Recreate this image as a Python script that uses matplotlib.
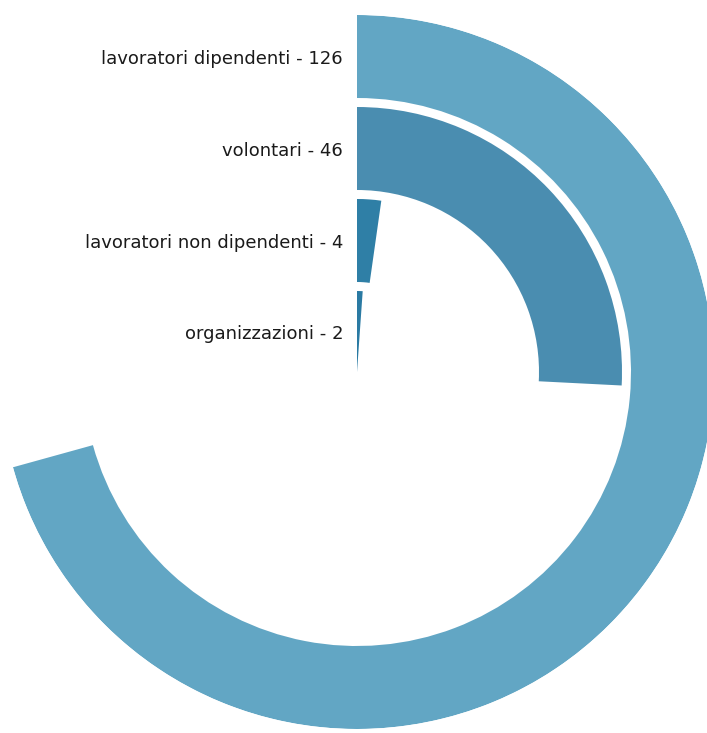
import numpy as np
import matplotlib.pyplot as plt

plt.rcParams["font.family"] = ["DejaVu Sans"]

categorie = ["lavoratori dipendenti", "volontari", "lavoratori non dipendenti", "organizzazioni"]
valori = [126, 46, 4, 2]
colori = ["#62a6c4", "#4a8db0", "#2f7fa6", "#2a7aa3"]

# scala angolare: gradi per unità
gradi_per_unita = 2.02
r_max = 357
spessore = 83
passo = 92

fig = plt.figure(figsize=(7.07, 7.33), dpi=100)
ax = fig.add_axes([0.0, 4 / 733, 714 / 707, 714 / 733], projection="polar")
ax.set_theta_zero_location("N")
ax.set_theta_direction(-1)
ax.set_ylim(0, r_max)

for i, (cat, val, col) in enumerate(zip(categorie, valori, colori)):
    esterno = r_max - passo * i
    interno = max(esterno - spessore, 0)
    ang = np.deg2rad(val * gradi_per_unita)
    ax.bar(0, esterno - interno, width=ang, bottom=interno, align="edge",
           color=col, edgecolor="none")
    # etichetta a sinistra dell'inizio della barra
    ax.annotate(f"{cat} - {val}", xy=(0, (esterno + interno) / 2),
                xytext=(-10, -2), textcoords="offset points",
                ha="right", va="center", fontsize=13, color="#1a1a1a")

ax.set_axis_off()
fig.savefig("out.png", dpi=100)
